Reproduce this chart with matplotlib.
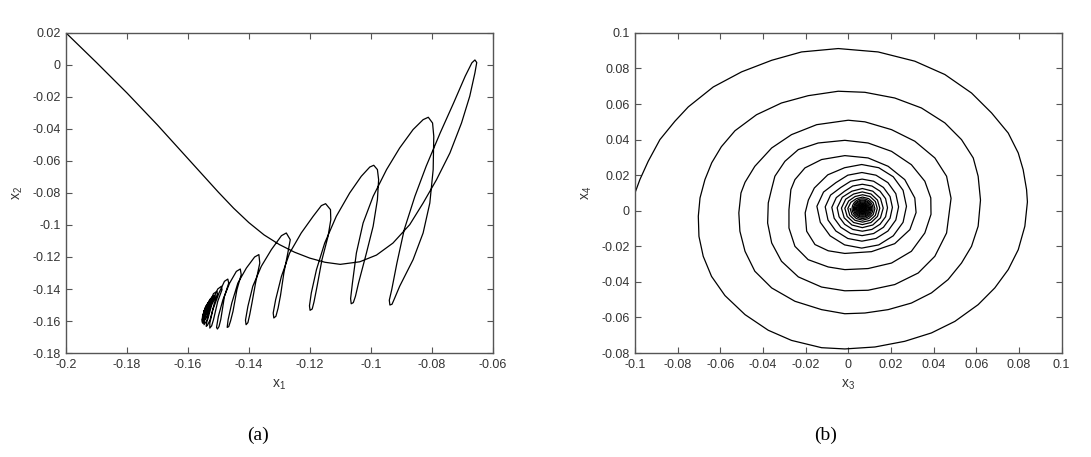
import matplotlib
matplotlib.use('Agg')
import matplotlib.pyplot as plt
from matplotlib.patches import Ellipse
import numpy as np

# (a) trajectory in the x1-x2 plane
arc_a = [(-0.2000, 0.0200), (-0.1900, 0.0015), (-0.1800, -0.0175), (-0.1700, -0.0375),
         (-0.1600, -0.0585), (-0.1500, -0.0795), (-0.1450, -0.0895), (-0.1400, -0.0985),
         (-0.1350, -0.1062), (-0.1300, -0.1122), (-0.1250, -0.1170), (-0.1200, -0.1207),
         (-0.1150, -0.1233), (-0.1100, -0.1246), (-0.1036, -0.1230), (-0.0981, -0.1188),
         (-0.0927, -0.1113), (-0.0872, -0.0998), (-0.0828, -0.0863), (-0.0784, -0.0717),
         (-0.0740, -0.0550), (-0.0702, -0.0363), (-0.0675, -0.0196), (-0.0658, -0.0050),
         (-0.0652, 0.0015), (-0.0658, 0.0031), (-0.0668, 0.0013)]
loops_a = [
    [(-0.0690, -0.0071), (-0.0728, -0.0238), (-0.0772, -0.0425), (-0.0818, -0.0633),
     (-0.0855, -0.0821), (-0.0890, -0.1029), (-0.0914, -0.1238), (-0.0931, -0.1404),
     (-0.0939, -0.1470), (-0.0937, -0.1500), (-0.0930, -0.1495)],
    [(-0.0922, -0.1460), (-0.0905, -0.1383), (-0.0861, -0.1217), (-0.0828, -0.1050),
     (-0.0806, -0.0863), (-0.0795, -0.0654), (-0.0793, -0.0446), (-0.0797, -0.0363),
     (-0.0811, -0.0327), (-0.0828, -0.0342), (-0.0861, -0.0404), (-0.0905, -0.0519),
     (-0.0948, -0.0654), (-0.0992, -0.0821), (-0.1025, -0.0988), (-0.1047, -0.1175),
     (-0.1060, -0.1363), (-0.1066, -0.1460), (-0.1064, -0.1492), (-0.1057, -0.1485)],
    [(-0.1050, -0.1445), (-0.1040, -0.1363), (-0.1014, -0.1175), (-0.0992, -0.1008),
     (-0.0978, -0.0842), (-0.0974, -0.0717), (-0.0978, -0.0654), (-0.0990, -0.0627),
     (-0.1003, -0.0638), (-0.1031, -0.0696), (-0.1069, -0.0800), (-0.1113, -0.0946),
     (-0.1151, -0.1113), (-0.1178, -0.1279), (-0.1195, -0.1425), (-0.1201, -0.1505),
     (-0.1199, -0.1533), (-0.1192, -0.1525)],
    [(-0.1186, -0.1480), (-0.1176, -0.1383), (-0.1160, -0.1217), (-0.1140, -0.1071),
     (-0.1131, -0.0967), (-0.1132, -0.0904), (-0.1148, -0.0867), (-0.1162, -0.0879),
     (-0.1189, -0.0946), (-0.1228, -0.1050), (-0.1266, -0.1175), (-0.1293, -0.1321),
     (-0.1312, -0.1467), (-0.1320, -0.1550), (-0.1318, -0.1581), (-0.1311, -0.1570)],
    [(-0.1304, -0.1520), (-0.1296, -0.1440), (-0.1285, -0.1300), (-0.1272, -0.1175),
     (-0.1264, -0.1092), (-0.1277, -0.1050), (-0.1293, -0.1067), (-0.1326, -0.1154),
     (-0.1359, -0.1258), (-0.1387, -0.1383), (-0.1403, -0.1508), (-0.1411, -0.1595),
     (-0.1409, -0.1623), (-0.1403, -0.1610)],
    [(-0.1397, -0.1560), (-0.1390, -0.1490), (-0.1378, -0.1363), (-0.1364, -0.1238),
     (-0.1367, -0.1185), (-0.1381, -0.1200), (-0.1408, -0.1269), (-0.1436, -0.1363),
     (-0.1456, -0.1488), (-0.1468, -0.1592), (-0.1471, -0.1640), (-0.1466, -0.1635)],
    [(-0.1460, -0.1600), (-0.1452, -0.1540), (-0.1439, -0.1404), (-0.1425, -0.1310),
     (-0.1428, -0.1275), (-0.1441, -0.1290), (-0.1463, -0.1363), (-0.1485, -0.1467),
     (-0.1500, -0.1571), (-0.1506, -0.1640), (-0.1503, -0.1650), (-0.1498, -0.1635)],
    [(-0.1492, -0.1590), (-0.1480, -0.1446), (-0.1466, -0.1363), (-0.1469, -0.1338),
     (-0.1480, -0.1352), (-0.1498, -0.1425), (-0.1518, -0.1529), (-0.1528, -0.1613),
     (-0.1528, -0.1644), (-0.1522, -0.1630)],
    [(-0.1516, -0.1592), (-0.1502, -0.1477), (-0.1488, -0.1404), (-0.1490, -0.1383),
     (-0.1502, -0.1400), (-0.1518, -0.1467), (-0.1534, -0.1560), (-0.1540, -0.1633),
     (-0.1536, -0.1628)],
    [(-0.1527, -0.1592), (-0.1513, -0.1488), (-0.1503, -0.1429), (-0.1505, -0.1415),
     (-0.1516, -0.1429), (-0.1531, -0.1498), (-0.1545, -0.1581), (-0.1547, -0.1623)],
    [(-0.1535, -0.1590), (-0.1522, -0.1500), (-0.1510, -0.1452), (-0.1512, -0.1440),
     (-0.1522, -0.1452), (-0.1537, -0.1510), (-0.1548, -0.1580), (-0.1551, -0.1615)],
    [(-0.1540, -0.1580), (-0.1528, -0.1510), (-0.1517, -0.1463), (-0.1519, -0.1450),
     (-0.1528, -0.1465), (-0.1541, -0.1525), (-0.1550, -0.1580), (-0.1553, -0.1608)],
    [(-0.1544, -0.1570), (-0.1532, -0.1515), (-0.1522, -0.1475), (-0.1524, -0.1462),
     (-0.1532, -0.1480), (-0.1544, -0.1535), (-0.1551, -0.1575), (-0.1553, -0.1600)],
    [(-0.1546, -0.1562), (-0.1535, -0.1518), (-0.1527, -0.1485), (-0.1529, -0.1475),
     (-0.1536, -0.1492), (-0.1546, -0.1540), (-0.1552, -0.1572), (-0.1553, -0.1592)],
    [(-0.1546, -0.1558), (-0.1537, -0.1522), (-0.1531, -0.1495), (-0.1533, -0.1487),
     (-0.1540, -0.1505), (-0.1548, -0.1548), (-0.1552, -0.1585)],
    [(-0.1546, -0.1553), (-0.1539, -0.1524), (-0.1535, -0.1503), (-0.1537, -0.1497),
     (-0.1543, -0.1515), (-0.1549, -0.1553), (-0.1551, -0.1577)],
    [(-0.1545, -0.1549), (-0.1540, -0.1525), (-0.1538, -0.1510), (-0.1545, -0.1528),
     (-0.1549, -0.1558), (-0.1550, -0.1570)],
    [(-0.1545, -0.1547), (-0.1541, -0.1520), (-0.1546, -0.1535), (-0.1549, -0.1560)],
    [(-0.1543, -0.1528), (-0.1547, -0.1545), (-0.1548, -0.1555), (-0.1545, -0.1540)],
]

# (b) spiral in the x3-x4 plane, one list per turn
turns_b = [
    [(-0.1000, 0.0100), (-0.0977, 0.0175), (-0.0938, 0.0278), (-0.0883, 0.0400),
     (-0.0813, 0.0503), (-0.0750, 0.0584), (-0.0633, 0.0696), (-0.0500, 0.0781),
     (-0.0359, 0.0846), (-0.0219, 0.0893), (-0.0047, 0.0912), (0.0140, 0.0893),
     (0.0312, 0.0841), (0.0453, 0.0766), (0.0578, 0.0662), (0.0672, 0.0550),
     (0.0750, 0.0437), (0.0797, 0.0325), (0.0820, 0.0231), (0.0836, 0.0119),
     (0.0840, 0.0050), (0.0828, -0.0087), (0.0797, -0.0219), (0.0750, -0.0331),
     (0.0687, -0.0434), (0.0609, -0.0528), (0.0500, -0.0622), (0.0390, -0.0687),
     (0.0265, -0.0734), (0.0125, -0.0766), (-0.0016, -0.0777), (-0.0125, -0.0770),
     (-0.0266, -0.0729), (-0.0375, -0.0672), (-0.0484, -0.0584), (-0.0578, -0.0477),
     (-0.0641, -0.0369), (-0.0680, -0.0256), (-0.0700, -0.0144), (-0.0703, -0.0031),
     (-0.0695, 0.0072)],
    [(-0.0672, 0.0175), (-0.0640, 0.0270), (-0.0595, 0.0360), (-0.0531, 0.0450),
     (-0.0430, 0.0540), (-0.0313, 0.0606), (-0.0188, 0.0647), (-0.0047, 0.0672),
     (0.0078, 0.0666), (0.0218, 0.0634), (0.0343, 0.0578), (0.0453, 0.0494),
     (0.0531, 0.0400), (0.0586, 0.0297), (0.0609, 0.0194), (0.0620, 0.0060),
     (0.0609, -0.0087), (0.0578, -0.0200), (0.0531, -0.0294), (0.0468, -0.0387),
     (0.0390, -0.0462), (0.0296, -0.0519), (0.0187, -0.0556), (0.0078, -0.0575),
     (-0.0016, -0.0579), (-0.0125, -0.0556), (-0.0250, -0.0509), (-0.0359, -0.0434),
     (-0.0438, -0.0340), (-0.0484, -0.0228), (-0.0508, -0.0115), (-0.0513, -0.0012),
     (-0.0503, 0.0100)],
    [(-0.0484, 0.0160), (-0.0438, 0.0250), (-0.0359, 0.0353), (-0.0266, 0.0428),
     (-0.0148, 0.0484), (0.0000, 0.0509), (0.0078, 0.0500), (0.0203, 0.0456),
     (0.0312, 0.0391), (0.0406, 0.0297), (0.0461, 0.0194), (0.0482, 0.0070),
     (0.0461, -0.0125), (0.0406, -0.0256), (0.0328, -0.0350), (0.0218, -0.0415),
     (0.0093, -0.0447), (-0.0016, -0.0450), (-0.0125, -0.0429), (-0.0234, -0.0372),
     (-0.0313, -0.0284), (-0.0359, -0.0181), (-0.0378, -0.0069), (-0.0375, 0.0044),
     (-0.0360, 0.0119)],
    [(-0.0344, 0.0194), (-0.0297, 0.0278), (-0.0234, 0.0344), (-0.0141, 0.0381),
     (-0.0016, 0.0396), (0.0093, 0.0381), (0.0203, 0.0334), (0.0296, 0.0259),
     (0.0359, 0.0166), (0.0387, 0.0072), (0.0388, -0.0020), (0.0359, -0.0125),
     (0.0296, -0.0228), (0.0203, -0.0294), (0.0093, -0.0325), (-0.0016, -0.0331),
     (-0.0094, -0.0316), (-0.0188, -0.0275), (-0.0250, -0.0200), (-0.0278, -0.0097),
     (-0.0278, 0.0006), (-0.0269, 0.0119)],
    [(-0.0250, 0.0175), (-0.0203, 0.0241), (-0.0125, 0.0288), (-0.0016, 0.0310),
     (0.0093, 0.0297), (0.0187, 0.0250), (0.0265, 0.0175), (0.0312, 0.0072),
     (0.0318, -0.0010), (0.0289, -0.0106), (0.0218, -0.0185), (0.0109, -0.0230),
     (-0.0016, -0.0240), (-0.0094, -0.0225), (-0.0156, -0.0190), (-0.0195, -0.0115),
     (-0.0202, -0.0012), (-0.0187, 0.0060)],
    [(-0.0159, 0.0128), (-0.0096, 0.0202), (-0.0017, 0.0242), (0.0063, 0.0260),
     (0.0143, 0.0242), (0.0211, 0.0191), (0.0257, 0.0115), (0.0273, 0.0025),
     (0.0257, -0.0065), (0.0211, -0.0141), (0.0143, -0.0192), (0.0063, -0.0210),
     (-0.0017, -0.0192), (-0.0085, -0.0141), (-0.0131, -0.0065), (-0.0147, 0.0025)],
    [(-0.0116, 0.0105), (-0.0058, 0.0158), (-0.0002, 0.0200), (0.0064, 0.0215),
     (0.0130, 0.0200), (0.0186, 0.0158), (0.0223, 0.0096), (0.0236, 0.0022),
     (0.0223, -0.0052), (0.0186, -0.0114), (0.0130, -0.0156), (0.0064, -0.0171),
     (-0.0002, -0.0156), (-0.0058, -0.0114), (-0.0095, -0.0052), (-0.0108, 0.0022)],
    [(-0.0083, 0.0088), (-0.0035, 0.0131), (0.0011, 0.0166), (0.0065, 0.0178),
     (0.0119, 0.0166), (0.0165, 0.0131), (0.0196, 0.0080), (0.0207, 0.0019),
     (0.0196, -0.0042), (0.0165, -0.0093), (0.0119, -0.0128), (0.0065, -0.0140),
     (0.0011, -0.0128), (-0.0035, -0.0093), (-0.0066, -0.0042), (-0.0077, 0.0019)],
    [(-0.0056, 0.0074), (-0.0017, 0.0110), (0.0021, 0.0139), (0.0066, 0.0149),
     (0.0111, 0.0139), (0.0149, 0.0110), (0.0175, 0.0068), (0.0184, 0.0017),
     (0.0175, -0.0034), (0.0149, -0.0076), (0.0111, -0.0105), (0.0066, -0.0115),
     (0.0021, -0.0105), (-0.0017, -0.0076), (-0.0043, -0.0034), (-0.0052, 0.0017)],
    [(-0.0028, 0.0076), (0.0017, 0.0110), (0.0066, 0.0125), (0.0115, 0.0110),
     (0.0151, 0.0070), (0.0164, 0.0015), (0.0151, -0.0040), (0.0115, -0.0080),
     (0.0066, -0.0095), (0.0017, -0.0080), (-0.0019, -0.0040), (-0.0032, 0.0015)],
    [(-0.0012, 0.0065), (0.0025, 0.0094), (0.0066, 0.0106), (0.0107, 0.0094),
     (0.0137, 0.0060), (0.0148, 0.0014), (0.0137, -0.0032), (0.0107, -0.0066),
     (0.0066, -0.0078), (0.0025, -0.0066), (-0.0005, -0.0032), (-0.0016, 0.0014)],
    [(0.0002, 0.0055), (0.0032, 0.0080), (0.0067, 0.0090), (0.0102, 0.0080),
     (0.0127, 0.0052), (0.0136, 0.0013), (0.0127, -0.0026), (0.0102, -0.0054),
     (0.0067, -0.0064), (0.0032, -0.0054), (0.0007, -0.0026), (-0.0002, 0.0013)],
    [(0.0012, 0.0047), (0.0038, 0.0068), (0.0067, 0.0077), (0.0096, 0.0068),
     (0.0117, 0.0045), (0.0125, 0.0012), (0.0117, -0.0021), (0.0096, -0.0044),
     (0.0067, -0.0053), (0.0038, -0.0044), (0.0017, -0.0021), (0.0009, 0.0012)],
]

# innermost turns of (b): centre and half sizes of each tight ring
core_x, core_y = 0.0067, 0.0012
core_hw = [0.0049, 0.0043, 0.0038, 0.0033, 0.0029, 0.0025, 0.0021, 0.0018,
           0.0015, 0.0012, 0.0009, 0.0006, 0.0003]
core_hh = [0.0055, 0.0048, 0.0043, 0.0037, 0.0032, 0.0028, 0.0024, 0.0020,
           0.0017, 0.0013, 0.0010, 0.0007, 0.0003]

xticks_a = [-0.2, -0.18, -0.16, -0.14, -0.12, -0.1, -0.08, -0.06]
yticks_a = [0.02, 0, -0.02, -0.04, -0.06, -0.08, -0.1, -0.12, -0.14, -0.16, -0.18]
xticks_b = [-0.1, -0.08, -0.06, -0.04, -0.02, 0, 0.02, 0.04, 0.06, 0.08, 0.1]
yticks_b = [0.1, 0.08, 0.06, 0.04, 0.02, 0, -0.02, -0.04, -0.06, -0.08]

plt.rcParams['font.family'] = ['Liberation Sans', 'DejaVu Sans']
plt.rcParams['mathtext.default'] = 'regular'

txt = '#333333'
frame = '#555555'


def fmt(v):
    return '%g' % round(v, 4)


def style(ax, xt, yt, xlab, ylab):
    ax.set_xticks(xt)
    ax.set_yticks(yt)
    ax.set_xticklabels([fmt(v) for v in xt])
    ax.set_yticklabels([fmt(v) for v in yt])
    ax.tick_params(direction='in', top=True, right=True, length=4, width=0.8,
                   labelsize=9, colors=frame, labelcolor=txt, pad=4)
    for s in ax.spines.values():
        s.set_color(frame)
        s.set_linewidth(1.0)
    ax.set_xlabel(xlab, fontsize=10, color=txt, labelpad=5)
    ax.set_ylabel(ylab, fontsize=10, color=txt, labelpad=5)


fig = plt.figure(figsize=(10.91, 4.57), dpi=100)
ax1 = fig.add_axes([0.0605, 0.2275, 0.391, 0.7005])
ax2 = fig.add_axes([0.582, 0.2275, 0.391, 0.7005])

pts_a = np.array(arc_a + [p for loop in loops_a for p in loop])
ax1.plot(pts_a[:, 0], pts_a[:, 1], color='black', lw=0.9)
ax1.set_xlim(-0.2, -0.06)
ax1.set_ylim(-0.18, 0.02)
style(ax1, xticks_a, yticks_a, 'x$_1$', 'x$_2$')

pts_b = np.array([p for turn in turns_b for p in turn])
ax2.plot(pts_b[:, 0], pts_b[:, 1], color='black', lw=0.9)
for hw, hh in zip(core_hw, core_hh):
    ax2.add_patch(Ellipse((core_x, core_y), 2 * hw, 2 * hh, fill=False,
                          ec='black', lw=0.9))
ax2.set_xlim(-0.1, 0.1)
ax2.set_ylim(-0.08, 0.1)
style(ax2, xticks_b, yticks_b, 'x$_3$', 'x$_4$')

fig.text(0.2365, 0.048, '(a)', ha='center', va='center', fontsize=14,
         family=['Liberation Serif', 'DejaVu Serif'])
fig.text(0.757, 0.048, '(b)', ha='center', va='center', fontsize=14,
         family=['Liberation Serif', 'DejaVu Serif'])

fig.savefig('out.png', dpi=100)
